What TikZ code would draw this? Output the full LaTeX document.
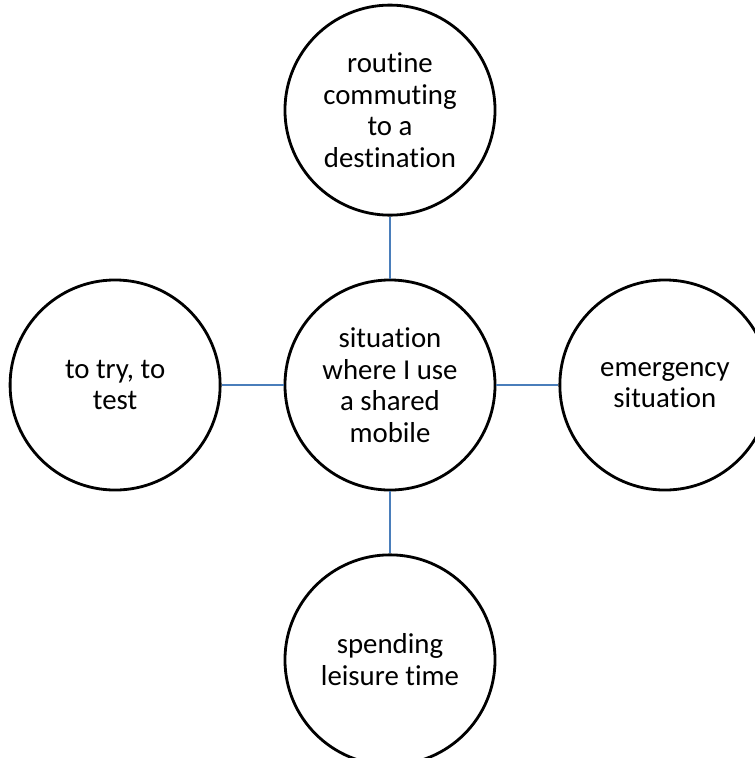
\documentclass[tikz,border=0pt]{standalone}
\usepackage{fontspec}
\setmainfont{Carlito}[Ligatures=NoCommon]
\usetikzlibrary{positioning}
\definecolor{linkblue}{RGB}{74,126,187}

\begin{document}
\begin{tikzpicture}[x=0.025cm,y=-0.025cm]
\tikzset{bubble/.style={circle, draw, line width=2pt, minimum size=5.25cm, inner sep=0pt, align=center, font=\fontsize{20.5}{22.5}\selectfont}}
\tikzset{link/.style={draw=linkblue, line width=1.7pt}, node distance=1.55cm}
\useasboundingbox (0,0) rectangle (755,758);

\node[bubble] (sit) at (390,385) {situation\\where I use\\a shared\\mobile};
\node[bubble, above=of sit] (routine) {routine\\commuting\\to a\\destination};
\node[bubble, left=of sit] (try) {to try, to\\test};
\node[bubble, right=of sit] (emergency) {emergency\\situation};
\node[bubble, below=of sit] (leisure) {spending\\leisure time};

\draw[link] (sit) -- (routine);
\draw[link] (sit) -- (try);
\draw[link] (sit) -- (emergency);
\draw[link] (sit) -- (leisure);

\end{tikzpicture}
\end{document}
